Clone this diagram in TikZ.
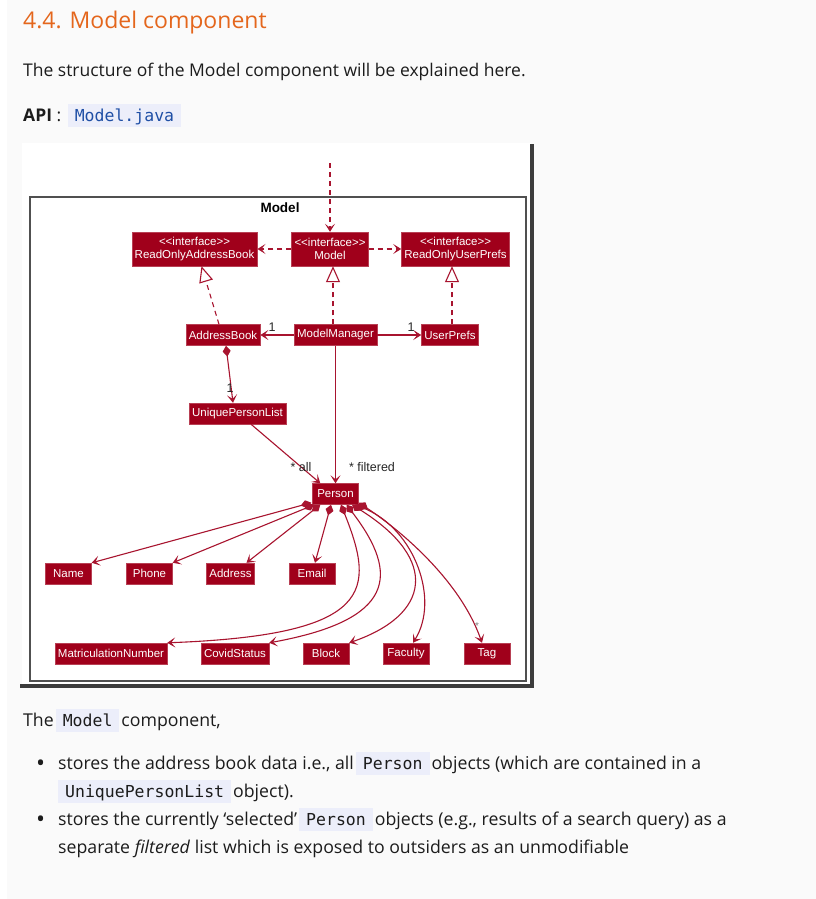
\documentclass[tikz,border=0pt]{standalone}
\usepackage{fontspec}
\setmainfont{Open Sans}
\setmonofont{DejaVu Sans Mono}
\newfontfamily\umlfont{Liberation Sans}
\usetikzlibrary{positioning, arrows.meta, calc}

\definecolor{pagebg}{HTML}{FAFAFA}
\definecolor{headorange}{HTML}{E4661C}
\definecolor{bodytext}{HTML}{1C1C1C}
\definecolor{chipbg}{HTML}{ECEEFA}
\definecolor{chipblue}{HTML}{1F4FA5}
\definecolor{umlred}{HTML}{A0001B}
\definecolor{umlline}{HTML}{A8142F}
\definecolor{framegrey}{HTML}{505050}
\definecolor{diagdark}{HTML}{3C3C3C}

\newcommand{\chip}[2][bodytext]{\kern2pt{\setlength{\fboxsep}{0pt}\colorbox{chipbg}{\rule[-6pt]{0pt}{23pt}\kern7pt\textcolor{#1}{\fontsize{16.5}{20}\ttfamily #2}\kern7pt}}\kern2pt}
\newcommand{\bigdot}{{\fontsize{24}{24}\selectfont\textbullet}}

\begin{document}
\begin{tikzpicture}[
    x=1pt, y=-1pt,
    body/.style={anchor=base west, inner sep=0pt, text=bodytext, font=\fontsize{17.7}{21}\selectfont},
    cls/.style={rectangle, fill=umlred, draw=umlred!75!white, line width=0.4pt,
                minimum width=46pt, minimum height=21pt, inner xsep=3pt, inner ysep=1pt,
                align=center, text=white, font=\umlfont\fontsize{11.5}{13}\selectfont},
    iface/.style={cls, minimum height=34pt},
    mult/.style={font=\umlfont\fontsize{12.5}{14}\selectfont, text=black!85, inner sep=0pt},
    dep/.style={umlline, line width=1.1pt, dash pattern=on 5pt off 4pt,
                -{Stealth[length=8pt, width=10pt, inset=4pt]}},
    real/.style={umlline, line width=1.1pt, dash pattern=on 5pt off 4pt,
                 -{Triangle[open, length=16pt, width=14pt, fill=white]}},
    assoc/.style={umlline, line width=1.1pt, -{Stealth[length=8pt, width=10pt, inset=4pt]}},
    comp/.style={umlline, line width=1.1pt,
                 {Diamond[length=11pt, width=8pt]}-{Stealth[length=8pt, width=10pt, inset=4pt]}},
  ]
  % page
  \fill[pagebg] (0,0) rectangle (816,899);
  \fill[white] (0,0) rectangle (7,899);
  \useasboundingbox (0,0) rectangle (816,899);

  % text above the diagram
  \node[body, text=headorange, font=\fontsize{23}{27}\selectfont] (heading) at (23,29) {4.4. Model component};
  \node[body, font=\fontsize{17.5}{21}\selectfont] (intro) at (23,76) {The structure of the Model component will be explained here.};
  \node[body, font=\fontsize{17.5}{21}\selectfont] (api) at (23,121) {\textbf{API} : \chip[chipblue]{Model.java}};

  % diagram canvas
  \fill[white] (22,143) rectangle (531,684);
  \fill[diagdark] (530,144) rectangle (534,688);
  \fill[diagdark] (20,684) rectangle (534,688);
  \draw[framegrey, line width=1.6pt] (30,197) rectangle (526,681);
  \node[font=\umlfont\bfseries\fontsize{13.5}{15}\selectfont] (pkg) at (280,208) {Model};

  % classes
  \node[iface] (roab) at (194.5,249) {<<interface>>\\ReadOnlyAddressBook};
  \node[iface] (imodel) at (330,249) {<<interface>>\\Model};
  \node[iface] (roup) at (455.5,249) {<<interface>>\\ReadOnlyUserPrefs};
  \node[cls] (abook) at (223,335) {AddressBook};
  \node[cls] (mmgr) at (335.5,335) {ModelManager};
  \node[cls] (uprefs) at (450,335) {UserPrefs};
  \node[cls] (upl) at (237.5,413.5) {UniquePersonList};
  \node[cls] (person) at (335.5,494) {Person};

  \node[cls] (name) at (68.5,573.5) {Name};
  \node[cls] (phone) at (149.5,573.5) {Phone};
  \node[cls] (address) at (230.5,573.5) {Address};
  \node[cls] (email) at (312,573.5) {Email};
  \node[cls] (matric) at (111,653.5) {MatriculationNumber};
  \node[cls] (covid) at (235,653.5) {CovidStatus};
  \node[cls] (block) at (326,653.5) {Block};
  \node[cls] (faculty) at (406,653.5) {Faculty};
  \node[cls] (tag) at (487,653.5) {Tag};

  % interfaces
  \coordinate (outside) at (330,163);
  \draw[dep] (outside) -- (imodel.north);
  \draw[dep] (imodel.west) -- (roab.east);
  \draw[dep] (imodel.east) -- (roup.west);
  \draw[real] ([xshift=-4pt]abook.north) -- ([xshift=7pt]roab.south);
  \draw[real] ([xshift=-2.5pt]mmgr.north) -- ([xshift=3pt]imodel.south);
  \draw[real] ([xshift=2pt]uprefs.north) -- ([xshift=-3.5pt]roup.south);

  % associations
  \draw[assoc] (mmgr.west) -- (abook.east);
  \draw[assoc] (mmgr.east) -- (uprefs.west);
  \draw[comp] ([xshift=3pt]abook.south) -- ([xshift=-4.5pt]upl.north);
  \draw[assoc] ([xshift=13.5pt]upl.south) -- ([xshift=8pt]person.north west);
  \draw[assoc] (mmgr.south) -- (person.north);
  \node[mult] (m1) at (272,327) {1};
  \node[mult] (m2) at (411,327) {1};
  \node[mult] (m3) at (230,388) {1};
  \node[mult] (mall) at (301,467) {* all};
  \node[mult] (mfilt) at (372,467) {* filtered};

  % person attributes
  \draw[comp] ([xshift=-1pt,yshift=2pt]person.south west) -- (name.north east);
  \draw[comp] ([xshift=2pt]person.south west) -- (phone.north east);
  \draw[comp] ([xshift=8pt]person.south west) -- ([xshift=16pt]address.north);
  \draw[comp] ([xshift=-4.5pt]person.south) -- ([xshift=3pt]email.north);
  \draw[comp] ([xshift=5.5pt]person.south) .. controls (375,590) and (375,635) .. (matric.north east);
  \draw[comp] ([xshift=11pt]person.south) .. controls (400,575) and (395,620) .. (covid.north east);
  \draw[comp] ([xshift=16.5pt]person.south) .. controls (440,560) and (430,615) .. (block.north east);
  \draw[comp] ([xshift=-3pt]person.south east) .. controls (415,530) and (440,600) .. ([xshift=7pt]faculty.north);
  \draw[comp] ([yshift=2pt]person.south east) .. controls (400,530) and (460,580) .. ([xshift=-5pt]tag.north);
  \node[mult, text=black!50, font=\umlfont\fontsize{10}{10}\selectfont] (mtag) at (477,626) {*};

  % text below the diagram
  \node[body] (lead) at (23,726) {The\chip{Model}component,};
  \node[body] (dot1) at (36,771) {\bigdot};
  \node[body] (line1) at (58,769) {stores the address book data i.e., all\chip{Person}objects (which are contained in a};
  \node[body] (line2) at (58,797) {\kern-2pt\chip{UniquePersonList}object).};
  \node[body] (dot2) at (36,827) {\bigdot};
  \node[body] (line3) at (58,825) {stores the currently ‘selected’\chip{Person}objects (e.g., results of a search query) as a};
  \node[body] (line4) at (58,853) {separate \textit{filtered} list which is exposed to outsiders as an unmodifiable};
\end{tikzpicture}
\end{document}
